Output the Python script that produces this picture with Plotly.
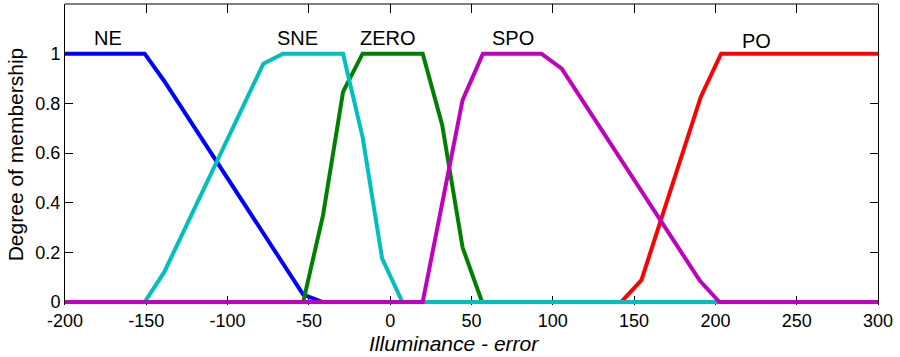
import plotly.graph_objects as go

# Membership functions of the illuminance error (vertices of each curve)
ne_x = [-200, -151, -139, -53.5, -41.5, 300]
ne_y = [1, 1, 0.89, 0.03, 0, 0]

sne_x = [-200, -151, -139, -78, -66, -29, -17, -5, 7.5, 300]
sne_y = [0, 0, 0.12, 0.96, 1, 1, 0.665, 0.176, 0, 0]

zero_x = [-200, -53.5, -41.3, -29, -17, 20, 32, 44.5, 56.5, 300]
zero_y = [0, 0, 0.35, 0.846, 1, 1, 0.712, 0.22, 0, 0]

spo_x = [-200, 20, 44.5, 57, 93, 105.5, 190.5, 202.5, 300]
spo_y = [0, 0, 0.813, 1, 1, 0.94, 0.085, 0, 0]

po_x = [-200, 142, 154.5, 191, 203.5, 300]
po_y = [0, 0, 0.088, 0.826, 1, 1]

# Set names and where their labels sit
mf_names = ["NE", "SNE", "ZERO", "SPO", "PO"]
label_x = [-173.5, -57, -1.5, 75.5, 225.5]
label_y = [1.062, 1.062, 1.062, 1.062, 1.052]

x_ticks = [-200, -150, -100, -50, 0, 50, 100, 150, 200, 250, 300]
x_tick_text = ["-200", "-150", "-100", "-50", "0", "50", "100", "150", "200", "250", "300"]
y_ticks = [0, 0.2, 0.4, 0.6, 0.8, 1]
y_tick_text = ["0", "0.2", "0.4", "0.6", "0.8", "1"]

FONT = "Arial, 'Liberation Sans', sans-serif"
LW = 4

curves = [
    ("NE", ne_x, ne_y, "#0000FF"),
    ("ZERO", zero_x, zero_y, "#008000"),
    ("PO", po_x, po_y, "#FF0000"),
    ("SNE", sne_x, sne_y, "#00BFBF"),
    ("SPO", spo_x, spo_y, "#BF00BF"),
]

fig = go.Figure()
for name, xs, ys, color in curves:
    fig.add_trace(go.Scatter(
        x=xs, y=ys, mode="lines", name=name,
        line=dict(color=color, width=LW),
        showlegend=False, hoverinfo="skip",
    ))

annotations = []
for name, lx, ly in zip(mf_names, label_x, label_y):
    annotations.append(dict(
        x=lx, y=ly, xref="x", yref="y", text=name, showarrow=False,
        xanchor="center", yanchor="middle",
        font=dict(family=FONT, size=20, color="black"),
    ))

# Axis titles
annotations.append(dict(
    x=0.478, y=-0.128, xref="paper", yref="paper",
    text="<i>Illuminance - error</i>", showarrow=False,
    xanchor="center", yanchor="middle",
    font=dict(family=FONT, size=21, color="black"),
))
annotations.append(dict(
    x=-0.061, y=0.502, xref="paper", yref="paper",
    text="Degree of membership", showarrow=False, textangle=-90,
    xanchor="center", yanchor="middle",
    font=dict(family=FONT, size=21, color="black"),
))

fig.update_layout(
    width=900, height=357,
    margin=dict(l=65, r=22, t=4, b=52),
    paper_bgcolor="white", plot_bgcolor="white",
    annotations=annotations,
    shapes=[dict(type="line", xref="paper", yref="paper",
                 x0=0, x1=1, y0=1, y1=1,
                 line=dict(color="black", width=1))],
)

fig.update_xaxes(
    range=[-200, 300], tickvals=x_ticks, ticktext=x_tick_text,
    ticks="inside", ticklen=9, tickwidth=1, tickcolor="black",
    showline=False, mirror="ticks", showgrid=False, zeroline=False,
    tickfont=dict(family=FONT, size=18, color="black"),
    ticklabelstandoff=3,
    layer="below traces",
)
fig.update_yaxes(
    range=[-0.0121, 1.2], tickvals=y_ticks, ticktext=y_tick_text,
    ticks="inside", ticklen=8, tickwidth=1, tickcolor="black",
    showline=True, linecolor="black", linewidth=1, mirror="ticks",
    showgrid=False, zeroline=False,
    tickfont=dict(family=FONT, size=18, color="black"),
    layer="below traces",
)

fig.write_html("out.html")
